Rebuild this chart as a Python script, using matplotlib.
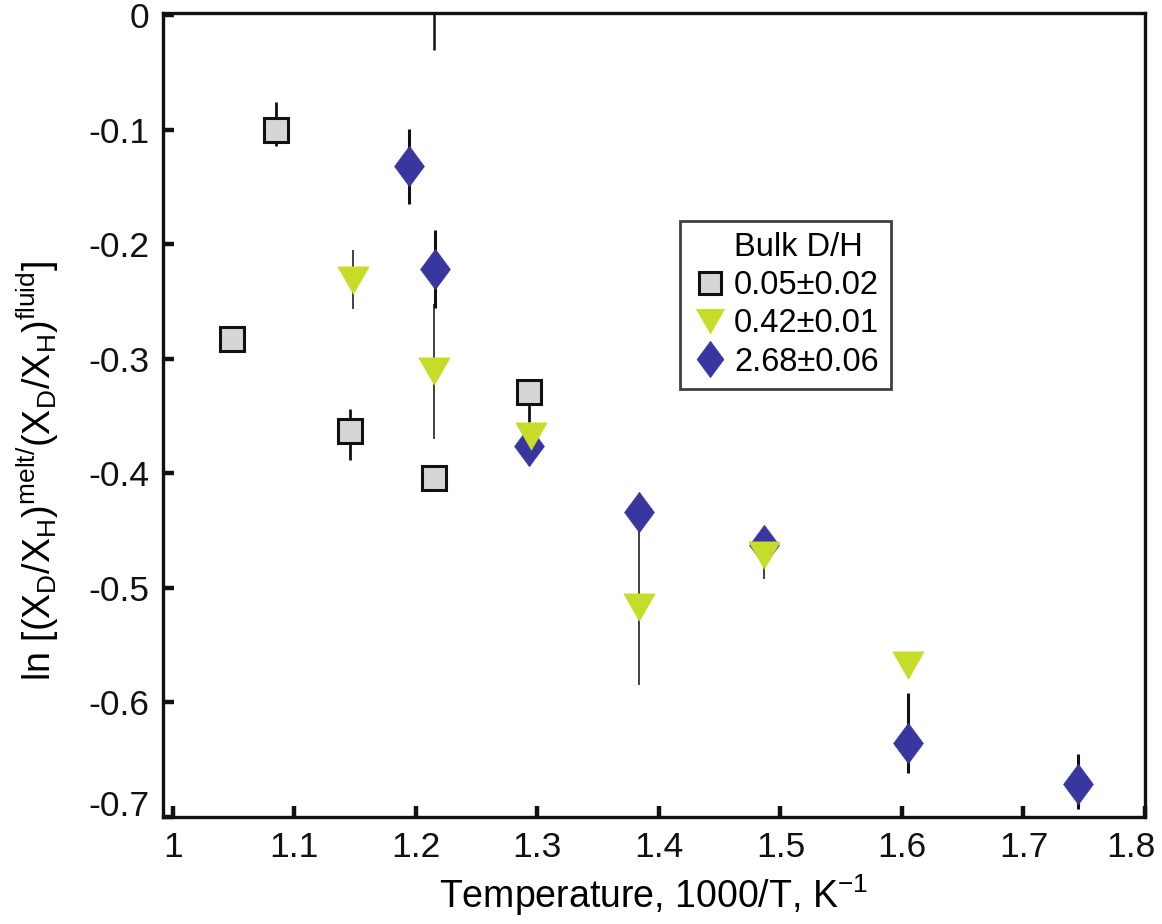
import matplotlib
matplotlib.use("Agg")
import matplotlib.pyplot as plt
from matplotlib.transforms import ScaledTranslation
from matplotlib.lines import Line2D

plt.rcParams['font.family'] = ['Liberation Sans', 'DejaVu Sans']
plt.rcParams['mathtext.fontset'] = 'custom'
plt.rcParams['mathtext.rm'] = 'Liberation Sans'
plt.rcParams['mathtext.it'] = 'Liberation Sans:italic'
plt.rcParams['mathtext.bf'] = 'Liberation Sans:bold'

# ---- data ----
sq_x = [1.085, 1.049, 1.146, 1.215, 1.2935]
sq_y = [-0.1005, -0.2825, -0.3626, -0.4039, -0.3287]
sq_err_lo = [0.014, 0.0, 0.026, 0.0, 0.026]
sq_err_hi = [0.025, 0.0, 0.019, 0.0, 0.0]

tri_x = [1.148, 1.215, 1.2945, 1.384, 1.4865, 1.6053]
tri_y = [-0.2307, -0.3108, -0.3673, -0.5168, -0.4712, -0.567]
tri_err_lo = [0.026, 0.059, 0.0, 0.068, 0.021, 0.0]
tri_err_hi = [0.026, 0.059, 0.0, 0.068, 0.0, 0.0]

dia_x = [1.1943, 1.2154, 1.2935, 1.384, 1.4865, 1.6053, 1.745]
dia_y = [-0.1319, -0.2214, -0.376, -0.434, -0.4629, -0.6357, -0.6714]
dia_err_lo = [0.033, 0.034, 0.0, 0.0, 0.0, 0.026, 0.022]
dia_err_hi = [0.033, 0.034, 0.0, 0.0, 0.0, 0.044, 0.026]

# error bar of an off-scale point (only its lower end is visible)
off_x = [1.215]
off_lo = [-0.0305]
off_hi = [0.01]

legend_labels = ['0.05\u00b10.02', '0.42\u00b10.01', '2.68\u00b10.06']
legend_title = 'Bulk D/H'
x_ticks = [1, 1.1, 1.2, 1.3, 1.4, 1.5, 1.6, 1.7, 1.8]
x_tick_labels = ['1', '1.1', '1.2', '1.3', '1.4', '1.5', '1.6', '1.7', '1.8']
y_ticks = [0, -0.1, -0.2, -0.3, -0.4, -0.5, -0.6, -0.7]
y_tick_labels = ['0', '-0.1', '-0.2', '-0.3', '-0.4', '-0.5', '-0.6', '-0.7']

# ---- figure ----
fig = plt.figure(figsize=(11.62, 9.24), dpi=100)
ax = fig.add_axes([0.1403, 0.1158, 0.8451, 0.8701])

sq_col = '#d6d6d6'
tri_col = '#c6dc28'
dia_col = '#3a36a0'

tri_marker = [(-1, 0.87), (1, 0.87), (0, -0.87), (-1, 0.87)]
dia_marker = [(0, 1), (0.74, 0), (0, -1), (-0.74, 0), (0, 1)]

ax.vlines(off_x, off_lo, off_hi, color='#111111', lw=1.8, zorder=1)

ax.errorbar(sq_x, sq_y, yerr=[sq_err_lo, sq_err_hi], fmt='none', ecolor='#111111',
            elinewidth=2.0, capsize=0, zorder=1)
ax.errorbar(tri_x, tri_y, yerr=[tri_err_lo, tri_err_hi], fmt='none', ecolor='#333333',
            elinewidth=1.3, capsize=0, zorder=1)
ax.errorbar(dia_x, dia_y, yerr=[dia_err_lo, dia_err_hi], fmt='none', ecolor='#111111',
            elinewidth=2.2, capsize=0, zorder=1)

h1, = ax.plot(sq_x, sq_y, linestyle='none', marker='s', ms=17.5, mfc=sq_col,
              mec='#111111', mew=2.2, zorder=3)
h2, = ax.plot(tri_x, tri_y, linestyle='none', marker=tri_marker, ms=22.5,
              mfc=tri_col, mec=tri_col, mew=0.5, zorder=4)
h3, = ax.plot(dia_x, dia_y, linestyle='none', marker=dia_marker, ms=29,
              mfc=dia_col, mec=dia_col, mew=0.5, zorder=3)

ax.set_xlim(0.992, 1.8)
ax.set_ylim(-0.7, 0.002)
ax.set_xticks(x_ticks)
ax.set_xticklabels(x_tick_labels)
ax.set_yticks(y_ticks)
ax.set_yticklabels(y_tick_labels)
ax.tick_params(axis='both', direction='in', length=8, width=3.2, labelsize=25.5,
               top=False, right=False, colors='#111111')
ax.tick_params(axis='x', pad=10)
ax.tick_params(axis='y', pad=10)
for s in ax.spines.values():
    s.set_linewidth(2.4)
    s.set_color('#111111')

# nudge the edge labels like the reference
lbl = ax.get_xticklabels()[-1]
lbl.set_transform(lbl.get_transform() + ScaledTranslation(-10 / 72, 0, fig.dpi_scale_trans))
lbl = ax.get_yticklabels()[-1]
lbl.set_transform(lbl.get_transform() + ScaledTranslation(0, 10 / 72, fig.dpi_scale_trans))

ax.set_xlabel('Temperature, 1000/T, K$^{\\mathrm{-1}}$', fontsize=27, labelpad=6)
ax.set_ylabel(r'ln [(X$_\mathrm{D}$/X$_\mathrm{H}$)$^\mathrm{melt/}$(X$_\mathrm{D}$/X$_\mathrm{H}$)$^\mathrm{fluid}$]',
              fontsize=27)
ax.yaxis.set_label_coords(-0.104, 0.43)

blank = Line2D([], [], linestyle='none', marker='none')
leg = ax.legend([blank, h1, h2, h3], [legend_title] + legend_labels,
                loc='upper left', bbox_to_anchor=(0.510, 0.762),
                fontsize=23.5, frameon=True, fancybox=False,
                edgecolor='#111111', borderpad=0.35, handletextpad=0.15,
                handlelength=1.15, labelspacing=0.22, markerscale=0.9)
leg.get_frame().set_linewidth(2.0)

fig.savefig('out.png', dpi=100)
